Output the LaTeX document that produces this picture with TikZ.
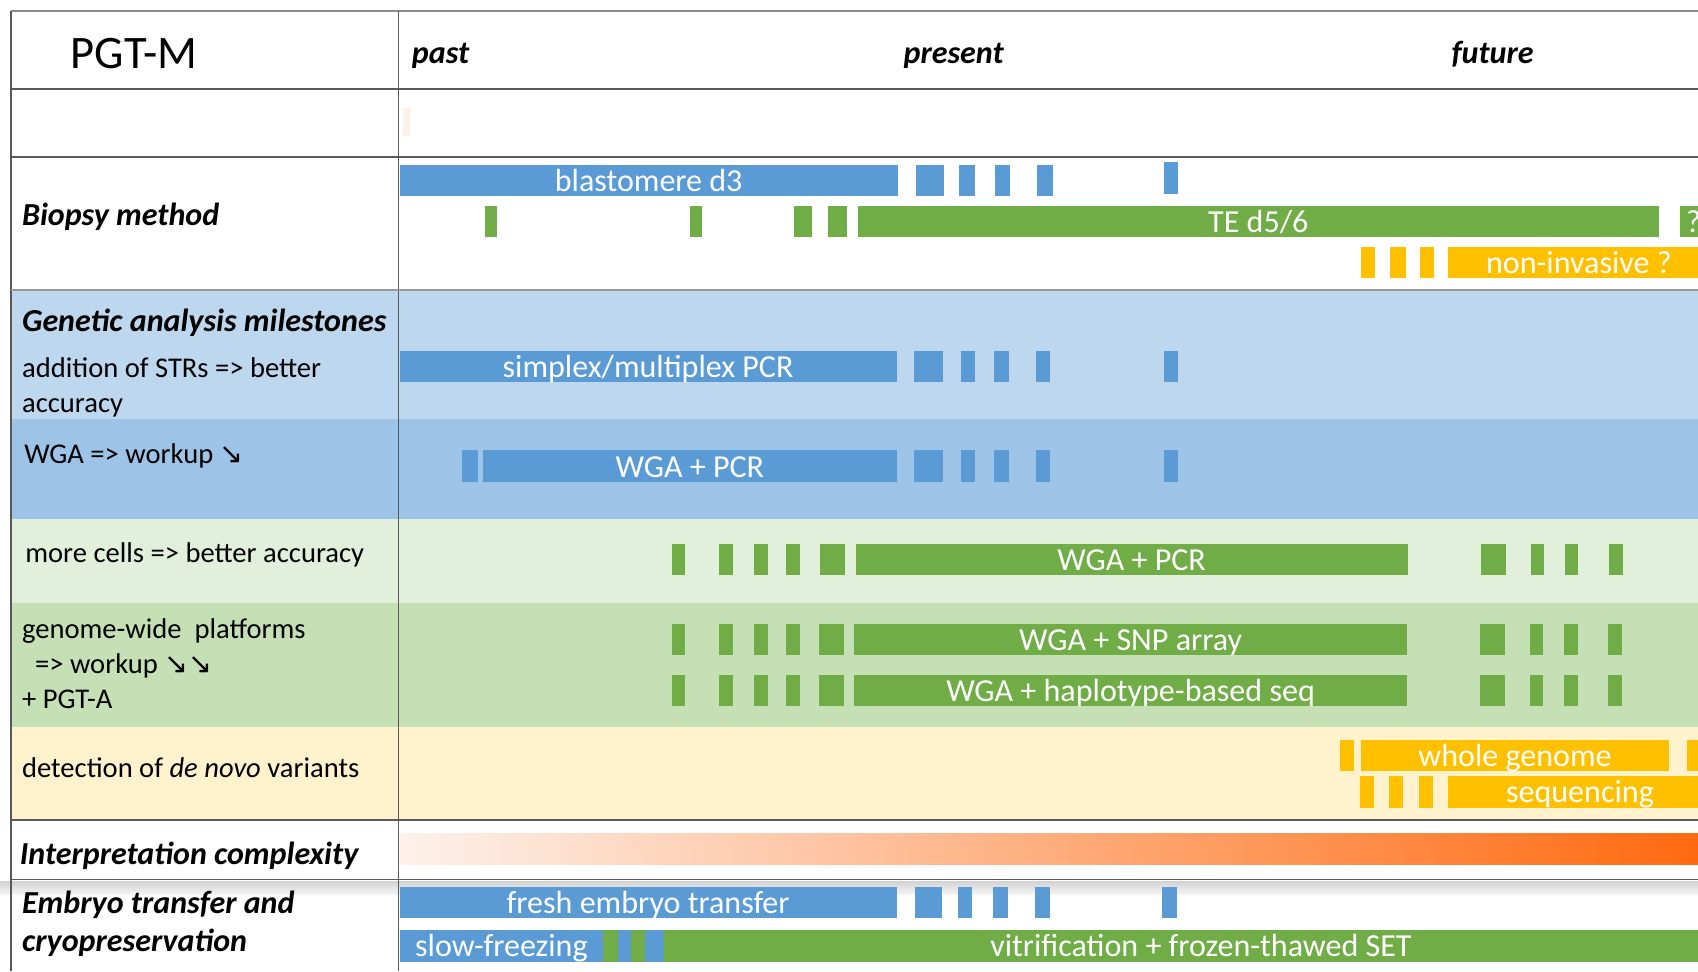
\documentclass[tikz,border=0pt]{standalone}
\usepackage{fontspec}
\setmainfont{Carlito}
\newfontfamily\arrowfont{DejaVu Sans}
\usepackage{xcolor}
\definecolor{bar-blue}{HTML}{5B9BD5}
\definecolor{bar-green}{HTML}{70AD47}
\definecolor{bar-yellow}{HTML}{FFC000}
\definecolor{band-blue}{HTML}{BDD7EE}
\definecolor{band-blue2}{HTML}{9DC3E6}
\definecolor{band-green}{HTML}{E2EFDA}
\definecolor{band-green2}{HTML}{C5E0B4}
\definecolor{band-yellow}{HTML}{FFF2CC}
\definecolor{grad-lo}{HTML}{FDF1EA}
\definecolor{grad-hi}{HTML}{FF6A10}
\definecolor{rule-gray}{HTML}{595959}
\newcommand{\stage}[6]{% \stage{name}{x-left}{x-right}{y-mid}{colour}{label}
  \node[barbox, fill=#5, anchor=west, minimum width={(#3-#2)*0.5pt}] (#1) at (#2,#4) {#6};}
\newcommand{\blk}[4]{% \blk{x-left}{x-right}{y-top}{colour}
  \fill[#4] (#1,#3) rectangle (#2,#3+29);}

\begin{document}
\begin{tikzpicture}[x=0.5pt, y=-0.5pt,
    rule/.style={draw=rule-gray, line width=0.7pt},
    barbox/.style={rectangle, inner sep=0pt, outer sep=0pt, minimum height=14.5pt,
      text height=10pt, text depth=0pt, text=white, font=\fontsize{14.8}{16}\selectfont},
    head/.style={anchor=base west, inner sep=0pt, font=\fontsize{14.8}{16}\selectfont\bfseries\itshape},
    lab/.style={anchor=base west, inner sep=0pt, font=\fontsize{13.2}{15}\selectfont}]
  \useasboundingbox (0,0) rectangle (1568,897);
  \clip (0,0) rectangle (1568,897);
  \fill[white] (0,0) rectangle (1568,897);
  % coloured bands
  \fill[band-blue] (10,268) rectangle (1568,387);
  \fill[band-blue2] (10,387) rectangle (1568,479);
  \fill[band-green] (10,479) rectangle (1568,557);
  \fill[band-green2] (10,557) rectangle (1568,671);
  \fill[band-yellow] (10,671) rectangle (1568,757);
  \fill[top color=black!17, bottom color=black!4] (0,814) rectangle (1568,826);
  \fill[grad-lo] (372,100) rectangle (379,126);
  % table rules
  \draw[draw=black!45, line width=1pt] (10,10) -- (1568,10);
  \draw[rule] (10,10) -- (10,897);
  \draw[rule] (368,10) -- (368,897);
  \draw[rule] (10,82) -- (1568,82);
  \draw[rule] (10,145) -- (1568,145);
  \draw[rule, draw=black!40] (10,268) -- (1568,268);
  \draw[rule] (10,757) -- (1568,757);
  \draw[rule] (10,812) -- (1568,812);
  % header
  \node[anchor=base west, inner sep=0pt, font=\fontsize{21.5}{24}\selectfont] (title) at (65,63) {PGT-M};
  \node[head] (past) at (380,59) {past};
  \node[head] (present) at (834,59) {present};
  \node[head] (future) at (1340,59) {future};
  % row labels
  \node[head] (biopsy) at (20,208) {Biopsy method};
  \node[head] (genetic) at (20,306) {Genetic analysis milestones};
  \node[lab] (strs) at (20,349) {addition of STRs => better};
  \node[lab] (strs-b) at (20,381) {accuracy};
  \node[lab] (wga) at (22,428) {WGA => workup {\arrowfont ↘}};
  \node[lab] (cells) at (23,519) {more cells => better accuracy};
  \node[lab] (gw-a) at (20,590) {genome-wide\ \ platforms};
  \node[lab] (gw-b) at (32,622) {=> workup {\arrowfont ↘↘}};
  \node[lab] (gw-c) at (20,654) {+ PGT-A};
  \node[lab] (denovo) at (20,718) {detection of \textit{de novo} variants};
  \node[head] (interp) at (18,798) {Interpretation complexity};
  \node[head] (embryo) at (20,844) {Embryo transfer and};
  \node[head] (cryo) at (20,879) {cryopreservation};
  % Biopsy method
  \stage{blast}{369}{829}{166.5}{bar-blue}{blastomere d3}
  \blk{846}{872}{152}{bar-blue}\blk{886}{900}{152}{bar-blue}
  \blk{919}{933}{152}{bar-blue}\blk{958}{972}{152}{bar-blue}
  \blk{1075}{1088}{150}{bar-blue}
  %
  \blk{448}{459}{190}{bar-green}\blk{637}{648}{190}{bar-green}
  \blk{733}{750}{190}{bar-green}\blk{765}{782}{190}{bar-green}
  \stage{te}{792}{1532}{204.5}{bar-green}{TE d5/6}
  \node[barbox, fill=bar-green, anchor=west, text width=22pt, align=left, inner xsep=3pt]
    (te-q) at (1551,204.5) {?};
  %
  \blk{1257}{1270}{228}{bar-yellow}\blk{1284}{1298}{228}{bar-yellow}
  \blk{1311}{1324}{228}{bar-yellow}
  \stage{noninv}{1337}{1579}{242.5}{bar-yellow}{non-invasive ?}
  % Genetic analysis
  \stage{plex}{369}{828}{338.5}{bar-blue}{simplex/multiplex PCR}
  \blk{844}{871}{324}{bar-blue}\blk{887}{900}{324}{bar-blue}
  \blk{918}{932}{324}{bar-blue}\blk{957}{970}{324}{bar-blue}
  \blk{1075}{1088}{324}{bar-blue}
  %
  \blk{427}{441}{416}{bar-blue}
  \stage{wga-pcr}{446}{828}{430.5}{bar-blue}{WGA + PCR}
  \blk{844}{871}{416}{bar-blue}\blk{887}{900}{416}{bar-blue}
  \blk{918}{932}{416}{bar-blue}\blk{957}{970}{416}{bar-blue}
  \blk{1075}{1088}{416}{bar-blue}
  %
  \blk{621}{633}{502}{bar-green}\blk{664}{677}{502}{bar-green}
  \blk{696}{709}{502}{bar-green}\blk{726}{739}{502}{bar-green}
  \blk{757}{780}{502}{bar-green}
  \stage{cells-pcr}{790}{1300}{516.5}{bar-green}{WGA + PCR}
  \blk{1368}{1391}{502}{bar-green}\blk{1414}{1426}{502}{bar-green}
  \blk{1445}{1457}{502}{bar-green}\blk{1486}{1499}{502}{bar-green}
  %
  \blk{621}{633}{576}{bar-green}\blk{664}{677}{576}{bar-green}
  \blk{696}{709}{576}{bar-green}\blk{726}{739}{576}{bar-green}
  \blk{756}{779}{576}{bar-green}
  \stage{snp}{789}{1299}{590.5}{bar-green}{WGA + SNP array}
  \blk{1367}{1390}{576}{bar-green}\blk{1413}{1425}{576}{bar-green}
  \blk{1444}{1457}{576}{bar-green}\blk{1485}{1498}{576}{bar-green}
  %
  \blk{621}{633}{623}{bar-green}\blk{664}{677}{623}{bar-green}
  \blk{696}{709}{623}{bar-green}\blk{726}{739}{623}{bar-green}
  \blk{756}{779}{623}{bar-green}
  \stage{haplo}{789}{1299}{637.5}{bar-green}{WGA + haplotype-based seq}
  \blk{1367}{1390}{623}{bar-green}\blk{1413}{1425}{623}{bar-green}
  \blk{1444}{1457}{623}{bar-green}\blk{1485}{1498}{623}{bar-green}
  % de novo
  \blk{1237}{1250}{683}{bar-yellow}
  \stage{wgs}{1257}{1541}{697.5}{bar-yellow}{whole genome}
  \blk{1558}{1580}{683}{bar-yellow}
  \blk{1256}{1269}{717}{bar-yellow}\blk{1283}{1296}{717}{bar-yellow}
  \blk{1310}{1323}{717}{bar-yellow}
  \stage{seq}{1337}{1581}{731.5}{bar-yellow}{sequencing}
  % interpretation
  \fill[left color=grad-lo, right color=grad-hi] (370,770) rectangle (1568,798);
  % embryo transfer
  \stage{fresh}{369}{828}{833.5}{bar-blue}{fresh embryo transfer}
  \blk{845}{870}{819}{bar-blue}\blk{885}{898}{819}{bar-blue}
  \blk{917}{931}{819}{bar-blue}\blk{956}{970}{819}{bar-blue}
  \blk{1073}{1087}{819}{bar-blue}
  %
  \stage{slow}{369}{557}{873.5}{bar-blue}{slow-freezing}
  \blk{557}{571}{859}{bar-green}\blk{571}{583}{859}{bar-blue}
  \blk{583}{596}{859}{bar-green}\blk{596}{613}{859}{bar-blue}
  \stage{vitri}{613}{1605}{873.5}{bar-green}{vitrification + frozen-thawed SET}
\end{tikzpicture}
\end{document}
